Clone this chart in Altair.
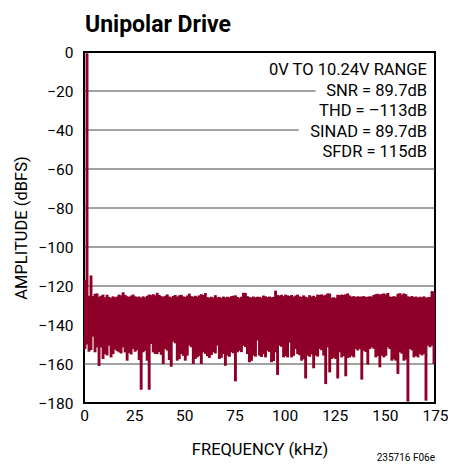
import altair as alt
import pandas as pd

# ---------------- text ----------------
chart_title = "Unipolar Drive"
x_title = "FREQUENCY (kHz)"
y_title = "AMPLITUDE (dBFS)"
annotation_lines = ["0V TO 10.24V RANGE", "SNR = 89.7dB", "THD = \u2013113dB",
                    "SINAD = 89.7dB", "SFDR = 115dB"]
footer_text = "235716 F06e"

# ---------------- axes ----------------
x_ticks = [0, 25, 50, 75, 100, 125, 150, 175]
y_ticks = [0, -20, -40, -60, -80, -100, -120, -140, -160, -180]
grid_levels = [-20, -40, -60, -80, -100, -120, -140, -160]
grid_end_khz = [115.5, 107.0, 175, 175, 175, 175, 175, 175]  # lines stop short of the text box

# ---------------- FFT (1 kHz bins, upper / lower envelope in dBFS) ----------------
bin_khz = 1.0
top_db = [
    -117.0, -0.7, -125.0, -114.6, -125.2, -124.0, -123.8, -125.5, -125.0, -124.4,
    -125.8, -124.5, -125.6, -126.0, -125.3, -125.8, -125.4, -124.4, -124.8, -123.2,
    -124.6, -125.2, -125.6, -124.9, -124.4, -125.3, -125.6, -125.4, -126.0, -125.3,
    -125.8, -125.0, -124.4, -124.7, -124.2, -124.8, -123.5, -124.6, -125.2, -125.5,
    -125.0, -124.3, -125.4, -125.8, -125.1, -124.6, -125.4, -124.8, -124.5, -125.3,
    -125.6, -124.9, -123.9, -125.2, -125.5, -125.0, -125.4, -124.8, -124.2, -124.6,
    -123.6, -125.7, -126.0, -125.5, -125.9, -124.7, -125.8, -125.6, -126.1, -125.4,
    -125.9, -125.5, -125.8, -125.2, -125.0, -124.8, -125.6, -126.0, -125.5, -123.5,
    -123.6, -125.2, -125.7, -125.9, -125.4, -125.8, -125.5, -125.6, -125.9, -124.9,
    -125.3, -125.7, -125.4, -125.8, -125.6, -122.4, -124.6, -124.9, -124.5, -125.2,
    -124.4, -124.8, -125.1, -124.6, -125.4, -124.9, -124.4, -125.3, -125.6, -124.8,
    -125.5, -125.9, -124.7, -125.4, -125.0, -125.6, -124.4, -124.6, -124.3, -124.9,
    -124.5, -123.8, -123.9, -126.0, -125.8, -126.1, -124.5, -124.7, -124.4, -124.6,
    -124.2, -123.8, -124.9, -125.5, -125.2, -125.6, -125.3, -125.5, -125.4, -125.2,
    -125.6, -125.5, -125.3, -125.4, -124.6, -124.2, -124.0, -124.4, -124.1, -123.8,
    -124.3, -123.6, -125.4, -125.6, -125.2, -125.5, -124.0, -123.7, -124.4, -123.8,
    -124.2, -125.3, -125.6, -125.1, -125.7, -125.4, -125.9, -125.5, -125.8, -125.3,
    -126.0, -125.7, -125.6, -122.6, -122.8,
]
bottom_db = [
    -152.3, -150.0, -153.7, -152.8, -146.0, -154.0, -151.5, -161.0, -151.5, -157.4,
    -154.9, -155.6, -150.6, -156.6, -154.9, -152.6, -153.4, -154.0, -154.6, -151.5,
    -154.0, -158.3, -154.4, -155.1, -152.3, -153.7, -152.9, -158.0, -173.2, -154.0,
    -153.2, -158.3, -173.2, -149.7, -154.0, -154.8, -154.9, -153.8, -155.3, -160.0,
    -152.3, -153.1, -158.0, -161.4, -148.5, -149.4, -158.3, -157.5, -154.9, -155.8,
    -158.3, -155.7, -150.6, -151.4, -160.0, -157.4, -156.6, -155.8, -160.0, -154.0,
    -154.8, -156.0, -156.9, -155.4, -154.0, -154.6, -150.6, -157.4, -156.8, -154.9,
    -160.9, -155.7, -156.3, -154.0, -154.5, -168.9, -154.0, -153.2, -153.9, -150.6,
    -151.3, -154.9, -159.1, -158.4, -155.7, -156.2, -148.0, -155.7, -156.4, -154.9,
    -156.6, -153.2, -153.9, -159.1, -158.5, -154.0, -165.6, -150.6, -151.2, -156.6,
    -155.9, -156.6, -149.0, -156.6, -155.8, -152.3, -154.9, -155.5, -158.3, -157.6,
    -167.4, -155.7, -156.3, -155.1, -162.2, -155.7, -156.2, -152.3, -153.0, -155.7,
    -170.3, -151.5, -164.3, -157.4, -156.8, -157.4, -167.4, -154.0, -156.6, -155.9,
    -166.3, -156.9, -156.6, -155.8, -156.6, -152.3, -153.1, -152.3, -168.0, -153.2,
    -153.8, -160.3, -152.3, -151.5, -152.2, -156.6, -155.9, -161.7, -155.7, -156.6,
    -155.8, -151.5, -152.3, -158.3, -157.6, -158.3, -165.1, -154.0, -154.7, -158.3,
    -157.7, -179.3, -152.3, -153.0, -156.6, -155.9, -156.6, -154.9, -155.6, -154.9,
    -178.8, -150.6, -151.4, -150.6, -160.0,
]

RED = "#8E0028"
FONT = "Roboto"

df = pd.DataFrame({
    "freq": [(i + 0.5) * bin_khz for i in range(len(top_db))],
    "top": top_db,
    "bottom": bottom_db,
})
grid_df = pd.DataFrame({"level": grid_levels, "x0": [0] * len(grid_levels), "x1": grid_end_khz})

x_scale = alt.Scale(domain=[0, 175], nice=False, zero=False)
y_scale = alt.Scale(domain=[-180, 0], nice=False, zero=False)

x_axis = alt.Axis(values=x_ticks, title=x_title, grid=False, ticks=False, tickSize=0,
                  domain=False, labelPadding=5, titlePadding=18, labelFlush=False)
y_axis = alt.Axis(values=y_ticks, title=y_title, grid=False, ticks=False, tickSize=0,
                  domain=False, labelPadding=11, titlePadding=9, labelFlush=False)

grid = alt.Chart(grid_df).mark_rule(color="#444444", strokeWidth=1).encode(
    x=alt.X("x0:Q", scale=x_scale, axis=x_axis),
    x2="x1:Q",
    y=alt.Y("level:Q", scale=y_scale, axis=y_axis),
)

spectrum = alt.Chart(df).mark_rule(color=RED, strokeWidth=2.9, clip=True).encode(
    x=alt.X("freq:Q", scale=x_scale, axis=x_axis),
    y=alt.Y("top:Q", scale=y_scale, axis=y_axis),
    y2="bottom:Q",
)

one = pd.DataFrame({"k": [0]})

title_mark = alt.Chart(one).mark_text(
    text=chart_title, align="left", baseline="alphabetic", font=FONT,
    fontSize=23, fontWeight="bold", color="black",
).encode(x=alt.value(1), y=alt.value(-20))

annot = alt.Chart(one).mark_text(
    text=annotation_lines, align="right", baseline="alphabetic", font=FONT,
    fontSize=16.5, lineHeight=20.5, color="black",
).encode(x=alt.value(343), y=alt.value(23))

footer = alt.Chart(one).mark_text(
    text=footer_text, align="right", baseline="alphabetic", font=FONT,
    fontSize=10, color="black",
).encode(x=alt.value(351), y=alt.value(409))

chart = alt.layer(grid, spectrum, title_mark, annot, footer).properties(
    width=351, height=351,
    autosize=alt.AutoSizeParams(type="none"),
    padding={"left": 76, "top": 44, "right": 13, "bottom": 60},
).configure_view(stroke="black", strokeWidth=2).configure_axis(
    labelFont=FONT, titleFont=FONT, labelFontSize=15.5, titleFontSize=16.5,
    labelColor="black", titleColor="black", titleFontWeight="normal",
)

chart.save("out.html", embed_options={"renderer": "svg", "actions": False})
